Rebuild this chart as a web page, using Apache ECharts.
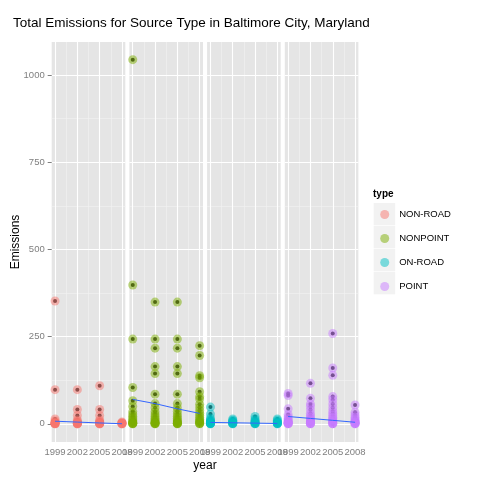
<!DOCTYPE html>
<html><head><meta charset="utf-8">
<script src="https://cdn.jsdelivr.net/npm/echarts@6/dist/echarts.min.js"></script>
<style>html,body{margin:0;padding:0;background:#fff}#c{width:480px;height:480px}</style>
</head><body><div id="c"></div>
<script>
const types = ['NON-ROAD', 'NONPOINT', 'ON-ROAD', 'POINT'];
const colors = ['#F8766D', '#7CAE00', '#00BFC4', '#C77CFF'];
const fadedColors = ['rgba(248,118,109,0.5)', 'rgba(124,174,0,0.5)', 'rgba(0,191,196,0.5)', 'rgba(199,124,255,0.5)'];
const years = [1999, 2002, 2005, 2008];
const yTicks = [0, 250, 500, 750, 1000];
const yMinorTicks = [125, 375, 625, 875];
const xMinorTicks = [2000.5, 2003.5, 2006.5];

// emissions per year (1999, 2002, 2005, 2008)
const nonRoadValues = [
  [352, 98, 14, 8, 5, 3, 2, 1.5, 1, 0.6, 0.3, 0.1],
  [98, 41, 24, 11, 7, 5, 3, 2, 1, 0.5, 0.2, 0.1],
  [109, 41, 24, 11, 7, 5, 3, 2, 1, 0.5, 0.2, 0.1],
  [5, 3, 2, 1, 0.5, 0.2, 0.1]
];
const nonPointValues = [
  [1044, 398, 243, 104, 66, 50, 35, 28, 22, 17, 12, 8, 5, 3, 2, 1, 0.5, 0.1],
  [349, 243, 217, 164, 144, 85, 58, 46, 35, 28, 22, 16, 12, 8, 5, 3, 2, 1, 0.5, 0.1],
  [349, 243, 217, 164, 144, 85, 58, 46, 36, 28, 22, 16, 12, 8, 5, 3, 2, 1, 0.5, 0.1],
  [224, 196, 138, 132, 92, 78, 71, 56, 47, 38, 30, 24, 18, 13, 9, 6, 4, 2, 1, 0.3]
];
const onRoadValues = [
  [48, 28, 17, 12, 9, 7, 5, 4, 3, 2, 1.5, 1, 0.5, 0.2],
  [14, 10, 8, 6, 4, 3, 2, 1, 0.5, 0.2],
  [21, 14, 10, 7, 5, 3, 2, 1, 0.5, 0.2],
  [14, 10, 7, 5, 3, 2, 1, 0.5, 0.2]
];
const pointValues = [
  [87, 81, 43, 27, 20, 15, 11, 8, 6, 4, 3, 2, 1, 0.5, 0.1],
  [116, 73, 57, 50, 40, 30, 24, 19, 15, 11, 8, 6, 4, 2, 1, 0.5, 0.1],
  [259, 160, 139, 78, 69, 57, 46, 37, 30, 24, 19, 15, 11, 8, 5, 3, 1, 0.5, 0.1],
  [54, 33, 25, 19, 14, 10, 7, 5, 3, 2, 1, 0.5, 0.1]
];

// linear smooth (fit, lower, upper) at each year
const nonRoadFit = [7.5, 5, 2.5, 0.3];
const nonRoadLow = [2, 1.5, -1, -5];
const nonRoadHigh = [13, 8.5, 6, 5.6];
const nonPointFit = [70, 58, 43, 30];
const nonPointLow = [37, 38, 28, 5];
const nonPointHigh = [103, 78, 60, 56];
const onRoadFit = [4, 3, 2, 1];
const onRoadLow = [1, 1, 0, -2];
const onRoadHigh = [7, 5, 4, 4];
const pointFit = [21, 15.5, 10, 4.5];
const pointLow = [15, 11.5, 6, -1.5];
const pointHigh = [27, 19.5, 14, 10.5];

const allValues = [nonRoadValues, nonPointValues, onRoadValues, pointValues];
const fits = [nonRoadFit, nonPointFit, onRoadFit, pointFit];
const lows = [nonRoadLow, nonPointLow, onRoadLow, pointLow];
const highs = [nonRoadHigh, nonPointHigh, onRoadHigh, pointHigh];

const panelLefts = [51.7, 129.4, 207.1, 284.8];
const panelWidth = 73.6;
const gridTop = 42, gridHeight = 400;
const xMin = 1998.55, xMax = 2008.45;
const yMin = -52.1, yMax = 1094.6;
const grey = '#7F7F7F';
const plain = v => String(Math.round(v));

const grids = [], xAxes = [], yAxes = [], series = [];
for (let i = 0; i < 4; i++) {
  grids.push({ left: panelLefts[i], top: gridTop, width: panelWidth, height: gridHeight,
    show: true, backgroundColor: '#E5E5E5', borderWidth: 0, z: 0 });
}
for (let i = 0; i < 4; i++) {
  xAxes.push({ gridIndex: i, type: 'value', min: xMin, max: xMax, z: 2,
    axisLine: { show: false },
    axisTick: { show: true, length: 4, lineStyle: { color: grey }, customValues: years },
    axisLabel: { show: true, customValues: years, color: grey, fontSize: 9.5, margin: 5,
      formatter: plain, showMinLabel: true, showMaxLabel: true, hideOverlap: false,
      fontFamily: 'Liberation Sans, Arial, sans-serif' },
    splitLine: { show: true, lineStyle: { color: '#FFFFFF', width: 1.1 } }
  });
  yAxes.push({ gridIndex: i, type: 'value', min: yMin, max: yMax, z: 2,
    axisLine: { show: false },
    axisTick: { show: i === 0, length: 4, lineStyle: { color: grey }, customValues: yTicks },
    axisLabel: { show: i === 0, customValues: yTicks, color: grey, fontSize: 9.5, margin: 7,
      formatter: plain, showMinLabel: true, showMaxLabel: true, hideOverlap: false,
      fontFamily: 'Liberation Sans, Arial, sans-serif' },
    splitLine: { show: true, lineStyle: { color: '#FFFFFF', width: 1.1 } }
  });
}
for (let i = 0; i < 4; i++) {
  xAxes.push({ gridIndex: i, type: 'value', min: xMin, max: xMax, z: 1,
    axisLine: { show: false },
    axisTick: { show: false, customValues: xMinorTicks },
    axisLabel: { show: false, customValues: xMinorTicks },
    splitLine: { show: true, lineStyle: { color: '#F2F2F2', width: 0.6 } }
  });
  yAxes.push({ gridIndex: i, type: 'value', min: yMin, max: yMax, z: 1,
    axisLine: { show: false },
    axisTick: { show: false, customValues: yMinorTicks },
    axisLabel: { show: false, customValues: yMinorTicks },
    splitLine: { show: true, lineStyle: { color: '#F2F2F2', width: 0.6 } }
  });
}

for (let i = 0; i < 4; i++) {
  const pts = [];
  years.forEach((yr, j) => allValues[i][j].forEach(v => pts.push([yr, v])));
  series.push({ type: 'scatter', name: types[i] + ' dot', xAxisIndex: i, yAxisIndex: i, z: 3,
    data: pts, symbolSize: 4, silent: true, itemStyle: { color: '#000000', opacity: 0.85 } });
  series.push({ type: 'scatter', name: types[i], xAxisIndex: i, yAxisIndex: i, z: 4,
    data: pts, symbolSize: 9, silent: true, itemStyle: { color: colors[i], opacity: 0.5 } });
  series.push({ type: 'line', name: types[i] + ' lo', xAxisIndex: i, yAxisIndex: i, z: 5,
    stack: 'band' + i, symbol: 'none', silent: true,
    data: years.map((yr, j) => [yr, lows[i][j]]),
    lineStyle: { opacity: 0 } });
  series.push({ type: 'line', name: types[i] + ' band', xAxisIndex: i, yAxisIndex: i, z: 5,
    stack: 'band' + i, symbol: 'none', silent: true,
    data: years.map((yr, j) => [yr, highs[i][j] - lows[i][j]]),
    lineStyle: { opacity: 0 }, areaStyle: { color: 'rgba(153,153,153,0.4)', opacity: 1 } });
  series.push({ type: 'line', name: types[i] + ' fit', xAxisIndex: i, yAxisIndex: i, z: 6,
    symbol: 'none', silent: true,
    data: years.map((yr, j) => [yr, fits[i][j]]),
    lineStyle: { color: '#3366FF', width: 1 } });
}

const graphics = [];
for (let k = 0; k < 4; k++) {
  graphics.push({ type: 'rect', shape: { x: 373.7, y: 203 + 23 * k, width: 21.5, height: 22.3 },
    style: { fill: '#F2F2F2' }, z: 0, silent: true });
}
graphics.push({ type: 'text', x: 373, y: 194, style: { text: 'type', fill: '#000', font: 'bold 10px Liberation Sans, Arial, sans-serif', textVerticalAlign: 'middle' } });
graphics.push({ type: 'text', x: 205, y: 466, style: { text: 'year', fill: '#000', font: '12px Liberation Sans, Arial, sans-serif', textAlign: 'center', textVerticalAlign: 'middle' } });
graphics.push({ type: 'text', x: 16, y: 242, rotation: Math.PI / 2, style: { text: 'Emissions', fill: '#000', font: '12px Liberation Sans, Arial, sans-serif', textAlign: 'center', textVerticalAlign: 'middle' } });

const chart = echarts.init(document.getElementById('c'), null, { renderer: 'canvas' });
chart.setOption({
  animation: false,
  backgroundColor: '#FFFFFF',
  title: { text: 'Total Emissions for Source Type in Baltimore City, Maryland', left: 13, top: 16, padding: 0,
    textStyle: { fontSize: 13.5, fontWeight: 'normal', color: '#000', fontFamily: 'Liberation Sans, Arial, sans-serif' } },
  grid: grids,
  xAxis: xAxes,
  yAxis: yAxes,
  legend: {
    data: types.map((t, i) => ({ name: t, itemStyle: { color: fadedColors[i], opacity: 1 } })),
    orient: 'vertical', left: 380.2, top: 209.5, icon: 'circle', padding: 0,
    itemWidth: 9, itemHeight: 9, itemGap: 14, z: 3,
    selectedMode: false,
    textStyle: { fontSize: 9.5, color: '#000', padding: [0, 0, 0, 5], lineHeight: 9,
      fontFamily: 'Liberation Sans, Arial, sans-serif' }
  },
  graphic: graphics,
  series: series
});
</script>
</body></html>
